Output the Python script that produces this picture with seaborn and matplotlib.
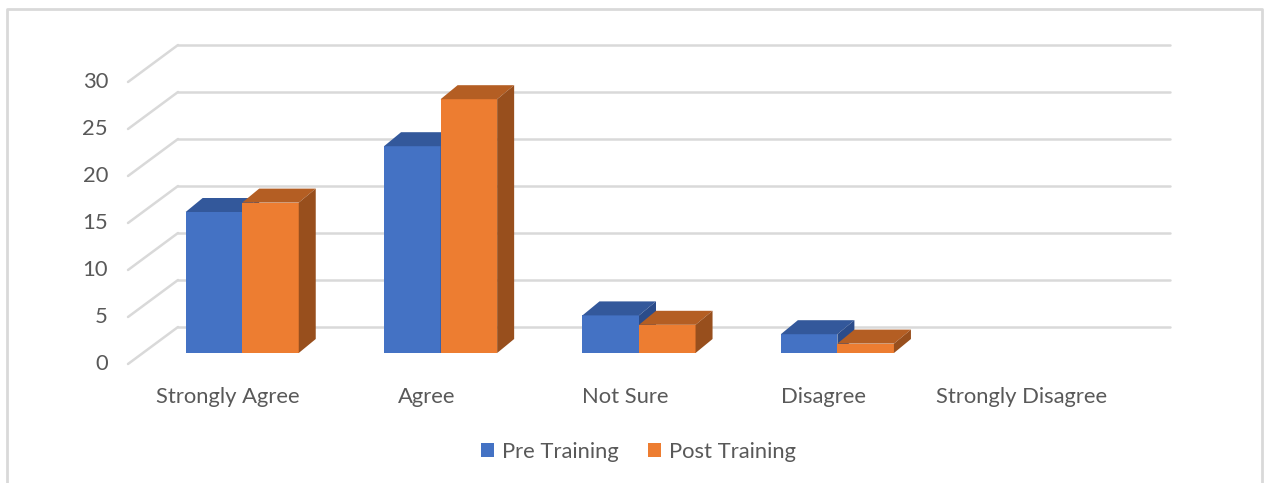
"""
Pre / post training survey responses, drawn as an Excel-style 3D column chart.
"""

import pandas as pd
import matplotlib
matplotlib.use("Agg")
import matplotlib.pyplot as plt
from matplotlib.patches import Patch, Polygon
from matplotlib.lines import Line2D
import seaborn as sns


responses = ["Strongly Agree", "Agree", "Not Sure", "Disagree", "Strongly Disagree"]
pre_training = [15, 22, 4, 2, 0]
post_training = [16, 27, 3, 1, 0]
stages = ["Pre Training", "Post Training"]
y_ticks = [0, 5, 10, 15, 20, 25, 30]

COULEURS = {
    "Pre Training":  {"front": "#4472C4", "top": "#33589B", "side": "#2B4C8A"},
    "Post Training": {"front": "#ED7D31", "top": "#B45E23", "side": "#984F1D"},
}
TEXT = "#595959"
GRID = "#D9D9D9"
FS = 15.8

W, H = 1265, 483
sns.set_theme(style="white")
plt.rcParams["font.family"] = ["Lato", "DejaVu Sans"]

df = pd.DataFrame({
    "Response": responses * 2,
    "Stage": [stages[0]] * len(responses) + [stages[1]] * len(responses),
    "Count": pre_training + post_training,
})

fig = plt.figure(figsize=(W / 100, H / 100), dpi=100)
fig.patch.set_facecolor("white")

# axes = plane of the bar front faces (pixel measures from the reference)
left_px, right_px, base_px, top_px = 143, 1135, 353, 71
ax = fig.add_axes([left_px / W, (H - base_px) / H,
                   (right_px - left_px) / W, (base_px - top_px) / H])

sns.barplot(data=df, x="Response", y="Count", hue="Stage", order=responses,
            hue_order=stages, palette=[COULEURS[s]["front"] for s in stages],
            width=0.57, gap=0, saturation=1, linewidth=0, legend=False, ax=ax)
ax.set_xlim(-0.5, len(responses) - 0.5)
ax.set_ylim(0, 30)
ax.axis("off")

# pixel -> data unit factors
px_x = (right_px - left_px) / len(responses)
px_y = (base_px - top_px) / 30.0

def dx(p):
    return p / px_x

def dy(p):
    return p / px_y

# back wall (+35, +26 px) and front edge (-15, -11 px) of the floor
bdx, bdy = dx(35), dy(26)
fdx, fdy = dx(-15), dy(-11)
x_lo, x_hi = -0.5, len(responses) - 0.5

for v in y_ticks:
    ax.add_line(Line2D([x_lo + bdx, x_hi + bdx], [v + bdy, v + bdy],
                       color=GRID, lw=1.8, zorder=1, clip_on=False))
    ax.add_line(Line2D([x_lo + fdx, x_lo + bdx], [v + fdy, v + bdy],
                       color=GRID, lw=1.8, zorder=1, clip_on=False))
    ax.text(x_lo + fdx - dx(20), v + fdy, str(v), ha="right", va="center",
            fontsize=FS, color=TEXT, clip_on=False)

# 3D faces: top and right side of each bar
ddx, ddy = dx(17), dy(14)
for k, (stage, cont) in enumerate(zip(stages, ax.containers)):
    for bar in cont:
        x0, w, h = bar.get_x(), bar.get_width(), bar.get_height()
        bar.set_zorder(2 + k)
        if h <= 0:
            bar.set_visible(False)
            continue
        top = [(x0, h), (x0 + w, h), (x0 + w + ddx, h + ddy), (x0 + ddx, h + ddy)]
        side = [(x0 + w, 0), (x0 + w, h), (x0 + w + ddx, h + ddy), (x0 + w + ddx, ddy)]
        ax.add_patch(Polygon(top, closed=True, fc=COULEURS[stage]["top"],
                             ec="none", zorder=2 + k, clip_on=False))
        ax.add_patch(Polygon(side, closed=True, fc=COULEURS[stage]["side"],
                             ec="none", zorder=2 + k, clip_on=False))

# category labels on the front edge
for i, name in enumerate(responses):
    ax.text(i + dx(-14), dy(-50), name, ha="center", va="baseline",
            fontsize=FS, color=TEXT, clip_on=False)

# legend
handles = [Patch(facecolor=COULEURS[s]["front"], edgecolor="none", label=s)
           for s in stages]
fig.legend(handles=handles, loc="center", bbox_to_anchor=(638.5 / W, (H - 451.5) / H),
           ncol=2, frameon=False, fontsize=FS, labelcolor=TEXT,
           handlelength=0.6, handleheight=0.6, handletextpad=0.36,
           columnspacing=1.3, borderpad=0)

# chart border (bottom edge is cropped in the reference)
bx = [7 / W, 7 / W, 1262 / W, 1262 / W]
by = [0, (H - 9) / H, (H - 9) / H, 0]
fig.add_artist(Line2D(bx, by, color=GRID, lw=2, transform=fig.transFigure))

fig.savefig("out.png", dpi=100)
plt.close(fig)
